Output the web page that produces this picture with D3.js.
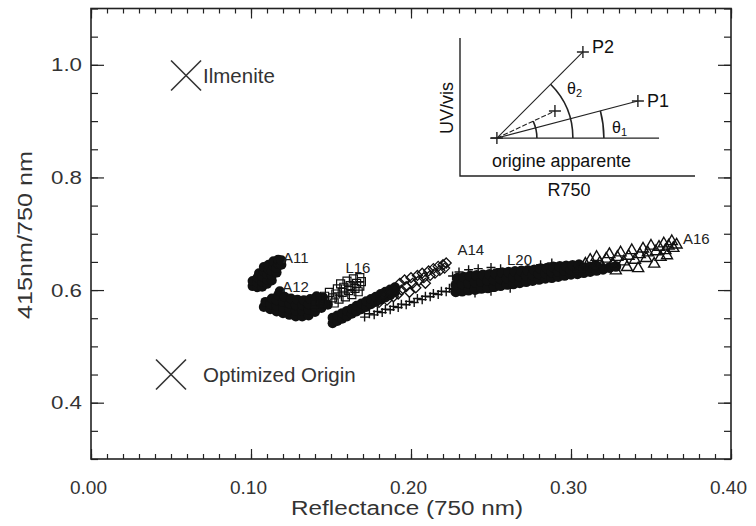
<!DOCTYPE html>
<html><head><meta charset="utf-8">
<script src="https://cdn.jsdelivr.net/npm/d3@7/dist/d3.min.js"></script>
<style>html,body{margin:0;padding:0;background:#fff;} svg{display:block}</style>
</head><body>
<svg id="chart" width="756" height="526"></svg>
<script>
// ---------- axis definitions ----------
const xMajorTicks = [0, 0.1, 0.2, 0.3, 0.4];
const xTickLabels = ["0.00", "0.10", "0.20", "0.30", "0.40"];
const yMajorTicks = [0.4, 0.6, 0.8, 1.0];
const yTickLabels = ["0.4", "0.6", "0.8", "1.0"];
const xTitle = "Reflectance (750 nm)";
const yTitle = "415nm/750 nm";

// ---------- reference markers ----------
const refNames = ["Ilmenite", "Optimized Origin"];
const refX = [0.0594, 0.050];
const refY = [0.981, 0.450];

// ---------- sites (reflectance, 415/750 ratio) ----------
const a11 = [[0.101,0.607],[0.101,0.616],[0.104,0.605],[0.104,0.613],[0.104,0.622],[0.105,0.630],[0.107,0.606],[0.107,0.615],[0.107,0.624],[0.108,0.633],[0.108,0.641],[0.110,0.611],[0.110,0.619],[0.110,0.628],[0.111,0.637],[0.111,0.645],[0.113,0.617],[0.113,0.626],[0.113,0.634],[0.114,0.643],[0.114,0.651],[0.116,0.631],[0.116,0.639],[0.117,0.647],[0.117,0.654],[0.119,0.645],[0.119,0.653]];
const a12 = [[0.108,0.570],[0.109,0.579],[0.112,0.566],[0.112,0.575],[0.113,0.585],[0.116,0.562],[0.116,0.572],[0.116,0.582],[0.117,0.591],[0.118,0.598],[0.120,0.559],[0.120,0.569],[0.120,0.579],[0.121,0.588],[0.124,0.556],[0.124,0.566],[0.124,0.576],[0.125,0.585],[0.128,0.553],[0.128,0.563],[0.128,0.573],[0.129,0.583],[0.132,0.553],[0.132,0.563],[0.132,0.573],[0.133,0.582],[0.136,0.555],[0.136,0.565],[0.136,0.575],[0.137,0.584],[0.140,0.561],[0.140,0.571],[0.140,0.581],[0.141,0.589],[0.144,0.568],[0.144,0.578],[0.145,0.587],[0.148,0.574]];
const l16 = [[0.140,0.576],[0.143,0.583],[0.145,0.575],[0.146,0.589],[0.148,0.581],[0.149,0.596],[0.151,0.586],[0.152,0.577],[0.153,0.593],[0.154,0.602],[0.155,0.584],[0.156,0.611],[0.157,0.596],[0.158,0.605],[0.159,0.588],[0.160,0.616],[0.161,0.599],[0.162,0.608],[0.163,0.592],[0.164,0.620],[0.165,0.603],[0.166,0.612],[0.167,0.597],[0.168,0.622],[0.168,0.607],[0.169,0.615]];
const a14Dense = [[0.151,0.541],[0.151,0.551],[0.154,0.545],[0.154,0.555],[0.157,0.549],[0.157,0.559],[0.160,0.553],[0.160,0.563],[0.163,0.558],[0.163,0.567],[0.166,0.562],[0.166,0.572],[0.169,0.566],[0.169,0.576],[0.172,0.570],[0.172,0.580],[0.175,0.575],[0.175,0.584],[0.178,0.579],[0.178,0.588],[0.181,0.583],[0.181,0.593],[0.184,0.587],[0.184,0.597],[0.187,0.591],[0.187,0.601],[0.190,0.596],[0.190,0.605]];
const a14 = [[0.180,0.578],[0.183,0.590],[0.185,0.582],[0.187,0.596],[0.189,0.588],[0.190,0.602],[0.192,0.593],[0.193,0.612],[0.194,0.600],[0.196,0.618],[0.197,0.606],[0.199,0.596],[0.200,0.622],[0.201,0.612],[0.203,0.604],[0.204,0.626],[0.205,0.617],[0.207,0.630],[0.208,0.622],[0.209,0.612],[0.211,0.634],[0.212,0.626],[0.214,0.638],[0.215,0.630],[0.217,0.642],[0.218,0.635],[0.220,0.645],[0.221,0.639],[0.222,0.648]];
const l20 = [[0.171,0.552],[0.174,0.558],[0.177,0.556],[0.179,0.562],[0.182,0.560],[0.184,0.566],[0.187,0.565],[0.189,0.571],[0.192,0.569],[0.194,0.575],[0.197,0.574],[0.199,0.580],[0.202,0.578],[0.204,0.585],[0.207,0.583],[0.209,0.589],[0.212,0.588],[0.214,0.594],[0.217,0.592],[0.219,0.598],[0.222,0.597],[0.224,0.603],[0.227,0.601],[0.229,0.607],[0.226,0.625],[0.230,0.632],[0.236,0.636],[0.242,0.638],[0.250,0.640],[0.256,0.638],[0.281,0.645],[0.288,0.648],[0.240,0.595],[0.250,0.598],[0.262,0.603]];
const l20Dense = [[0.228,0.597],[0.228,0.609],[0.229,0.621],[0.232,0.598],[0.232,0.611],[0.233,0.623],[0.236,0.600],[0.236,0.612],[0.237,0.625],[0.240,0.601],[0.240,0.614],[0.241,0.626],[0.244,0.603],[0.244,0.615],[0.245,0.627],[0.248,0.604],[0.248,0.617],[0.249,0.628],[0.252,0.606],[0.252,0.618],[0.253,0.629],[0.256,0.608],[0.256,0.620],[0.257,0.631],[0.260,0.610],[0.260,0.621],[0.261,0.632],[0.264,0.611],[0.264,0.623],[0.265,0.633],[0.268,0.613],[0.268,0.624],[0.269,0.634],[0.272,0.615],[0.272,0.626],[0.273,0.635],[0.276,0.617],[0.276,0.627],[0.277,0.636],[0.280,0.619],[0.280,0.629],[0.281,0.638],[0.284,0.621],[0.284,0.630],[0.285,0.639],[0.288,0.622],[0.288,0.632],[0.289,0.641],[0.292,0.624],[0.292,0.633],[0.293,0.642],[0.296,0.626],[0.296,0.635],[0.297,0.643],[0.300,0.628],[0.300,0.636],[0.301,0.644],[0.304,0.629],[0.304,0.637],[0.305,0.645],[0.308,0.631],[0.308,0.639],[0.312,0.633],[0.312,0.641],[0.316,0.635],[0.316,0.643],[0.320,0.637],[0.324,0.640],[0.328,0.642]];
const a16 = [[0.305,0.640],[0.309,0.648],[0.312,0.655],[0.314,0.643],[0.316,0.660],[0.318,0.650],[0.320,0.640],[0.322,0.657],[0.324,0.665],[0.326,0.648],[0.328,0.636],[0.329,0.660],[0.331,0.668],[0.333,0.652],[0.335,0.642],[0.336,0.662],[0.338,0.672],[0.340,0.655],[0.342,0.640],[0.343,0.665],[0.345,0.675],[0.347,0.658],[0.348,0.668],[0.350,0.680],[0.352,0.648],[0.353,0.670],[0.355,0.678],[0.356,0.660],[0.358,0.684],[0.359,0.672],[0.361,0.680],[0.363,0.688],[0.364,0.676],[0.366,0.682],[0.360,0.663]];

// site labels (anchor in data units)
const siteLabels = ["A11","A12","L16","A14","L20","A16"];
const siteLabelX = [0.120, 0.1195, 0.159, 0.229, 0.260, 0.370];
const siteLabelY = [0.648, 0.596, 0.630, 0.662, 0.645, 0.681];

// inset schematic (inset units 0..1)
const insetOrigin = [0.157, 0.275];
const insetP1 = [0.757, 0.543];
const insetP2 = [0.523, 0.899];
const insetMid = [0.404, 0.471];
const insetBase = [0.128, 0.847];

// ---------- drawing ----------
const svg = d3.select("#chart");
const FONT = "'Liberation Sans', Arial, sans-serif";
const INK = "#222";
const x = d3.scaleLinear().domain([0, 0.4]).range([91, 731]);
const y = d3.scaleLinear().domain([0.3, 1.1]).range([459, 8.5]);

svg.append("rect").attr("width",756).attr("height",526).attr("fill","#fff");

function styleAxis(g){ g.select(".domain").remove(); g.selectAll("line").attr("stroke", INK).attr("stroke-width",1.2); g.attr("font-family", FONT).attr("font-size", 19); g.selectAll("text").attr("fill","#333"); }

const xMinor = x.ticks(40);
const yMinor = y.ticks(16);

// bottom
svg.append("g").attr("transform","translate(0,459)").call(d3.axisBottom(x).tickValues(xMinor).tickSize(-5).tickFormat("")).call(styleAxis);
svg.append("g").attr("transform","translate(0,459)").call(d3.axisBottom(x).tickValues(xMajorTicks).tickSize(-10).tickPadding(22).tickFormat((d,i)=>xTickLabels[i])).call(styleAxis)
  .call(g=>g.selectAll("text").attr("textLength",37).attr("lengthAdjust","spacingAndGlyphs").attr("dx",-3));
// top
svg.append("g").attr("transform","translate(0,8.5)").call(d3.axisTop(x).tickValues(xMinor).tickSize(-5).tickFormat("")).call(styleAxis);
svg.append("g").attr("transform","translate(0,8.5)").call(d3.axisTop(x).tickValues(xMajorTicks).tickSize(-10).tickFormat("")).call(styleAxis);
// left
svg.append("g").attr("transform","translate(91,0)").call(d3.axisLeft(y).tickValues(yMinor).tickSize(-7).tickFormat("")).call(styleAxis);
svg.append("g").attr("transform","translate(91,0)").call(d3.axisLeft(y).tickValues(yMajorTicks).tickSize(-13).tickPadding(9).tickFormat((d,i)=>yTickLabels[i])).call(styleAxis)
  .call(g=>g.selectAll("text").attr("textLength",31).attr("lengthAdjust","spacingAndGlyphs"));
// right
svg.append("g").attr("transform","translate(731,0)").call(d3.axisRight(y).tickValues(yMinor).tickSize(-7).tickFormat("")).call(styleAxis);
svg.append("g").attr("transform","translate(731,0)").call(d3.axisRight(y).tickValues(yMajorTicks).tickSize(-13).tickFormat("")).call(styleAxis);

// frame
svg.append("rect").attr("x",x(0)).attr("y",y(1.1)).attr("width",x(0.4)-x(0)).attr("height",y(0.3)-y(1.1))
  .attr("fill","none").attr("stroke",INK).attr("stroke-width",1.6);

// titles
svg.append("text").attr("x",(x(0)+x(0.4))/2 - 4).attr("y",515).attr("text-anchor","middle")
  .attr("font-family",FONT).attr("font-size",19.5).attr("fill","#333")
  .attr("textLength",232).attr("lengthAdjust","spacingAndGlyphs").text(xTitle);
svg.append("text").attr("transform","translate(32,235) rotate(-90)").attr("text-anchor","middle")
  .attr("font-family",FONT).attr("font-size",19.5).attr("fill","#333")
  .attr("textLength",168).attr("lengthAdjust","spacingAndGlyphs").text(yTitle);

// symbol paths
const sq = s => `M${-s},${-s}H${s}V${s}H${-s}Z`;
const dia = s => `M0,${-s}L${s},0L0,${s}L${-s},0Z`;
const plus = s => `M${-s},0H${s}M0,${-s}V${s}`;
const tri = s => `M0,${-s}L${s*1.0},${s*0.75}L${-s*1.0},${s*0.75}Z`;

const marks = svg.append("g");
function filled(data, r){
  marks.append("g").selectAll("circle").data(data).join("circle")
    .attr("cx",d=>x(d[0])).attr("cy",d=>y(d[1])).attr("r",r).attr("fill","#111");
}
function symbols(data, path, sw){
  marks.append("g").selectAll("path").data(data).join("path")
    .attr("transform",d=>`translate(${x(d[0])},${y(d[1])})`).attr("d",path)
    .attr("fill","none").attr("stroke","#111").attr("stroke-width",sw);
}
filled(a11, 5);
filled(a12, 5);
symbols(l16, sq(4), 1.2);
filled(a14Dense, 5);
symbols(a14, dia(5), 1.3);
symbols(l20, plus(4.5), 1.4);
filled(l20Dense, 5.4);
symbols(a16, tri(5.5), 1.4);

// site labels
svg.append("g").selectAll("text").data(siteLabels).join("text")
  .attr("x",(d,i)=>x(siteLabelX[i])).attr("y",(d,i)=>y(siteLabelY[i]))
  .attr("font-family",FONT).attr("font-size",15).attr("fill","#222").text(d=>d);

// reference markers (X)
const refs = svg.append("g");
refNames.forEach((n,i)=>{
  const cx = x(refX[i]), cy = y(refY[i]);
  refs.append("path").attr("d",`M${cx-15},${cy-15}L${cx+15},${cy+15}M${cx-15},${cy+15}L${cx+15},${cy-15}`)
    .attr("stroke","#333").attr("stroke-width",1.6).attr("fill","none");
  refs.append("text").attr("x",x(0.07)).attr("y",cy+7.5).attr("font-family",FONT).attr("font-size",20.5)
    .attr("fill","#333").text(n);
});

// ---------- inset ----------
const ix = d3.scaleLinear().domain([0,1]).range([460,695]);
const iy = d3.scaleLinear().domain([0,1]).range([176,38]);
const ins = svg.append("g").attr("stroke",INK).attr("fill","none");
ins.append("path").attr("d",`M${ix(0)},${iy(1)}V${iy(0)}H${ix(1)}`).attr("stroke-width",1.4);
const ox = ix(insetOrigin[0]), oy = iy(insetOrigin[1]);
ins.append("path").attr("d",`M${ix(insetBase[0])},${oy}H${ix(insetBase[1])}`).attr("stroke-width",1.2);
[insetP1, insetP2].forEach(p=>{
  ins.append("line").attr("x1",ox).attr("y1",oy).attr("x2",ix(p[0])).attr("y2",iy(p[1])).attr("stroke-width",1.1);
});
ins.append("line").attr("x1",ox).attr("y1",oy).attr("x2",ix(insetMid[0])).attr("y2",iy(insetMid[1])).attr("stroke-width",1.1).attr("stroke-dasharray","5,2");
// crosses
[insetOrigin, insetP1, insetP2, insetMid].forEach(p=>{
  const px=ix(p[0]), py=iy(p[1]);
  ins.append("path").attr("d",`M${px-6},${py}H${px+6}M${px},${py-6}V${py+6}`).attr("stroke-width",1.4);
});
// arcs
function ang(p){ return Math.atan2(oy-iy(p[1]), ix(p[0])-ox); }
[[40, insetMid],[76, insetP2],[107, insetP1]].forEach(([r,p])=>{
  const a = ang(p);
  const pa = d3.path(); pa.moveTo(ox+r, oy); pa.arc(ox, oy, r, 0, -a, true);
  ins.append("path").attr("d", pa.toString()).attr("stroke-width",1.6);
});
const itext = svg.append("g").attr("font-family",FONT).attr("font-size",18).attr("fill","#111");
itext.append("text").attr("x",ix(insetP2[0])+9).attr("y",iy(insetP2[1])+1).text("P2");
itext.append("text").attr("x",ix(insetP1[0])+9).attr("y",iy(insetP1[1])+6).text("P1");
itext.append("text").attr("x",ix(0.136)).attr("y",iy(0.065)).attr("textLength",139).attr("lengthAdjust","spacingAndGlyphs").text("origine apparente");
itext.append("text").attr("x",ix(0.464)).attr("y",iy(-0.148)).attr("text-anchor","middle").text("R750");
itext.append("text").attr("transform",`translate(${ix(-0.03)},${iy(0.493)}) rotate(-90)`).attr("text-anchor","middle").text("UV/vis");
const t2 = itext.append("text").attr("x",567).attr("y",94).attr("font-size",16).text("θ");
t2.append("tspan").attr("dy",3).attr("font-size",11).text("2");
const t1 = itext.append("text").attr("x",612).attr("y",133).attr("font-size",16).text("θ");
t1.append("tspan").attr("dy",3).attr("font-size",11).text("1");
</script></body></html>
